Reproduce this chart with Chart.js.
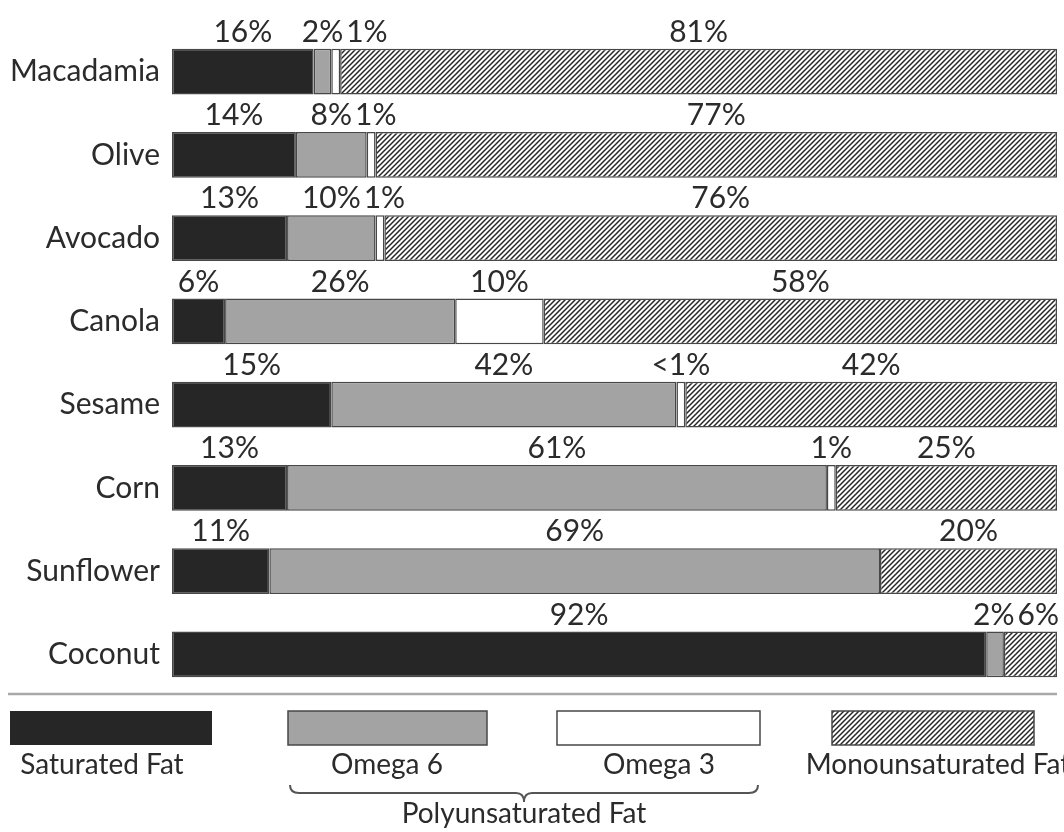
<!DOCTYPE html>
<html>
<head>
<meta charset="utf-8">
<title>Fat composition of cooking oils</title>
<script src="https://cdn.jsdelivr.net/npm/chart.js@4.4.1/dist/chart.umd.min.js"></script>
<style>
  html, body { margin: 0; padding: 0; background: #fff; }
  #wrap { width: 1064px; height: 832px; position: relative; }
</style>
</head>
<body>
<div id="wrap"><canvas id="fatChart"></canvas></div>
<script>
const oils = ['Macadamia', 'Olive', 'Avocado', 'Canola', 'Sesame', 'Corn', 'Sunflower', 'Coconut'];

// bar lengths as drawn (percent of total fat)
const saturated = [16, 14, 13, 6, 18, 13, 11, 92];
const omega6 = [2, 8, 10, 26, 39, 61, 69, 2];
const omega3 = [1, 1, 1, 10, 1, 1, 0, 0];
const mono = [81, 77, 76, 58, 42, 25, 20, 6];

// printed text above each piece
const saturatedText = ['16%', '14%', '13%', '6%', '15%', '13%', '11%', '92%'];
const omega6Text = ['2%', '8%', '10%', '26%', '42%', '61%', '69%', '2%'];
const omega3Text = ['1%', '1%', '1%', '10%', '<1%', '1%', null, null];
const monoText = ['81%', '77%', '76%', '58%', '42%', '25%', '20%', '6%'];

const seriesNames = ['Saturated Fat', 'Omega 6', 'Omega 3', 'Monounsaturated Fat'];
const groupName = 'Polyunsaturated Fat';

const FONT = 'Lato, "Open Sans", sans-serif';
const TEXT = '#2b2b2b';
const EDGE = '#474747';

// diagonal hatch for monounsaturated fat
const makeHatch = () => {
    const tile = document.createElement('canvas');
    tile.width = 5;
    tile.height = 5;
    const t = tile.getContext('2d');
    t.fillStyle = '#fff';
    t.fillRect(0, 0, 5, 5);
    t.strokeStyle = '#262626';
    t.lineWidth = 1.5;
    t.beginPath();
    t.moveTo(-1, 6); t.lineTo(6, -1);
    t.moveTo(-1, 1); t.lineTo(1, -1);
    t.moveTo(4, 6); t.lineTo(6, 4);
    t.stroke();
    return t.createPattern(tile, 'repeat');
};
const hatch = makeHatch();

const colours = ['#262626', '#a3a3a3', '#ffffff', hatch];

// percent text above every piece, nudged apart where pieces are thin
const segmentLabels = {
    id: 'segmentLabels',
    afterDatasetsDraw(chart) {
        const ctx = chart.ctx;
        const right = chart.chartArea.right;
        ctx.save();
        ctx.font = '30px ' + FONT;
        ctx.fillStyle = TEXT;
        ctx.textAlign = 'left';
        ctx.textBaseline = 'alphabetic';
        oils.forEach((oil, i) => {
            const items = [];
            chart.data.datasets.forEach((ds, d) => {
                const txt = ds.pieceText[i];
                if (!txt) return;
                const bar = chart.getDatasetMeta(d).data[i];
                const p = bar.getProps(['x', 'base', 'y', 'height'], true);
                const w = ctx.measureText(txt).width;
                items.push({ txt, w, left: (p.x + p.base) / 2 - w / 2, top: p.y - p.height / 2 });
            });
            for (let k = 1; k < items.length; k++) {
                const prev = items[k - 1];
                items[k].left = Math.max(items[k].left, prev.left + prev.w + 3);
            }
            for (let k = items.length - 1; k >= 0; k--) {
                const limit = k === items.length - 1 ? right + 2 : items[k + 1].left - 3;
                items[k].left = Math.min(items[k].left, limit - items[k].w);
            }
            items.forEach(it => ctx.fillText(it.txt, it.left, it.top - 7));
        });
        ctx.restore();
    }
};

// separator, key boxes and the brace under the two omega boxes
const fatKey = {
    id: 'fatKey',
    afterDraw(chart) {
        const ctx = chart.ctx;
        const boxes = [[10, 212], [288, 487], [557, 760], [832, 1034]];
        const textX = [102, 387, 659, 938];
        ctx.save();

        ctx.strokeStyle = '#a8a8a8';
        ctx.lineWidth = 2.5;
        ctx.beginPath();
        ctx.moveTo(8, 694);
        ctx.lineTo(1057, 694);
        ctx.stroke();

        ctx.font = '28px ' + FONT;
        ctx.textAlign = 'center';
        ctx.textBaseline = 'alphabetic';
        chart.data.datasets.forEach((ds, d) => {
            const [x0, x1] = boxes[d];
            ctx.fillStyle = ds.backgroundColor;
            ctx.fillRect(x0, 711, x1 - x0, 34);
            if (d > 0) {
                ctx.strokeStyle = EDGE;
                ctx.lineWidth = 1.5;
                ctx.strokeRect(x0, 711, x1 - x0, 34);
            }
            ctx.fillStyle = TEXT;
            ctx.fillText(ds.label, textX[d], 774);
        });

        const a = boxes[1][0] + 2;
        const b = boxes[2][1] - 2;
        const mid = (a + b) / 2;
        ctx.strokeStyle = '#555';
        ctx.lineWidth = 2;
        ctx.beginPath();
        ctx.moveTo(a, 785);
        ctx.quadraticCurveTo(a, 793, a + 9, 793);
        ctx.lineTo(mid - 8, 793);
        ctx.quadraticCurveTo(mid, 793, mid, 802);
        ctx.quadraticCurveTo(mid, 793, mid + 8, 793);
        ctx.lineTo(b - 9, 793);
        ctx.quadraticCurveTo(b, 793, b, 785);
        ctx.stroke();

        ctx.fillStyle = TEXT;
        ctx.fillText(groupName, mid, 823);
        ctx.restore();
    }
};

const seriesValues = [saturated, omega6, omega3, mono];
const seriesText = [saturatedText, omega6Text, omega3Text, monoText];

new Chart(document.getElementById('fatChart'), {
    type: 'bar',
    data: {
        labels: oils,
        datasets: seriesNames.map((name, d) => ({
            label: name,
            data: seriesValues[d],
            pieceText: seriesText[d],
            backgroundColor: colours[d],
            borderColor: EDGE,
            borderWidth: 1.5,
            borderSkipped: false,
            barPercentage: 46 / 84,
            categoryPercentage: 1,
        })),
    },
    options: {
        indexAxis: 'y',
        responsive: true,
        maintainAspectRatio: false,
        animation: false,
        layout: { padding: { top: 24, bottom: 136, right: 7, left: 0 } },
        plugins: {
            legend: { display: false },
            tooltip: { enabled: false },
        },
        scales: {
            x: { stacked: true, min: 0, max: 100, display: false },
            y: {
                stacked: true,
                grid: { display: false, drawTicks: false },
                border: { display: false },
                ticks: { color: TEXT, padding: 12, font: { family: FONT, size: 30 } },
                afterFit(scale) { scale.width = 172; },
            },
        },
    },
    plugins: [segmentLabels, fatKey],
});
</script>
</body>
</html>
